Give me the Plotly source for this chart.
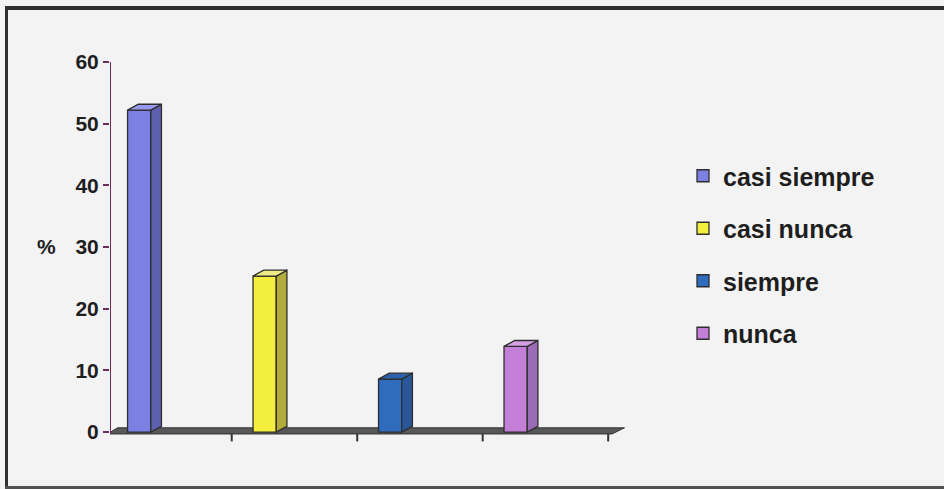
import plotly.graph_objects as go

# Survey answers (percent of respondents)
categories = ["casi siempre", "casi nunca", "siempre", "nunca"]
percentages = [52.2, 25.3, 8.6, 13.9]
y_ticks = [0, 10, 20, 30, 40, 50, 60]

front_colors = ["#7c80e2", "#f4ef3c", "#2f6cbe", "#c47fd9"]
side_colors = ["#5d60ad", "#b3ab3a", "#28579a", "#9a6cb6"]
top_colors = ["#9699ec", "#efeb84", "#2c60aa", "#d7a0e6"]

# geometry of the pseudo-3D columns, in axis units
OFFSET = 0.14    # gap between slot start and column front face
WIDTH = 0.185    # width of the front face
DX = 0.085       # horizontal depth of the column
DY = 0.95        # vertical depth of the column
X_MAX = 4.12
Y_MIN, Y_MAX = -1.6, 60

W, H = 944, 489
ML, MR, MT, MB = 110, 317, 62, 47
OUTLINE = "#2e2e2e"
FONT = "Liberation Sans, Arial, sans-serif"


def px_x(p):
    return (p - ML) / (W - ML - MR)


def px_y(p):
    return (H - MB - p) / (H - MT - MB)


fig = go.Figure()

for i, (name, v) in enumerate(zip(categories, percentages)):
    xl = i + OFFSET
    xr = xl + WIDTH
    fig.add_trace(go.Bar(
        x=[xl + WIDTH / 2], y=[v], width=WIDTH, name=name,
        legendgroup=name,
        marker=dict(color=front_colors[i], line=dict(color=OUTLINE, width=1.3)),
        hoverinfo="name+y",
    ))
    # right-hand side face
    fig.add_trace(go.Scatter(
        x=[xr, xr + DX, xr + DX, xr, xr],
        y=[0, DY, v + DY, v, 0],
        mode="lines", fill="toself", fillcolor=side_colors[i],
        line=dict(color=OUTLINE, width=1.3),
        legendgroup=name, showlegend=False, hoverinfo="skip",
    ))
    # top face
    fig.add_trace(go.Scatter(
        x=[xl, xr, xr + DX, xl + DX, xl],
        y=[v, v, v + DY, v + DY, v],
        mode="lines", fill="toself", fillcolor=top_colors[i],
        line=dict(color=OUTLINE, width=1.3),
        legendgroup=name, showlegend=False, hoverinfo="skip",
    ))

n = len(categories)
shapes = []
# floor plate under the columns
floor_path = (f"M -0.02,-0.3 L {n},-0.3 L {n + 0.1},0.7 L 0.06,0.7 Z")
shapes.append(dict(type="path", path=floor_path, xref="x", yref="y",
                   fillcolor="#585858", line=dict(color="#333333", width=1),
                   layer="below"))
# category separators under the floor
for k in range(1, n + 1):
    shapes.append(dict(type="line", xref="x", yref="y", x0=k - 0.03, x1=k - 0.03,
                       y0=-0.3, y1=-1.5, line=dict(color="#333333", width=2)))
# value axis line
shapes.append(dict(type="line", xref="x", yref="y", x0=0, x1=0, y0=-0.3, y1=Y_MAX,
                   line=dict(color="#6e2c5c", width=2)))
# outer frame (left, top, bottom)
shapes.append(dict(type="line", xref="paper", yref="paper",
                   x0=px_x(5), x1=px_x(944), y0=px_y(8), y1=px_y(8),
                   line=dict(color="#303030", width=4)))
shapes.append(dict(type="line", xref="paper", yref="paper",
                   x0=px_x(6.5), x1=px_x(6.5), y0=px_y(7), y1=px_y(488),
                   line=dict(color="#303030", width=3)))
shapes.append(dict(type="line", xref="paper", yref="paper",
                   x0=px_x(5), x1=px_x(944), y0=px_y(487.5), y1=px_y(487.5),
                   line=dict(color="#505050", width=3)))

fig.update_layout(
    width=W, height=H,
    margin=dict(l=ML, r=MR, t=MT, b=MB, pad=0),
    paper_bgcolor="#f3f3f4",
    plot_bgcolor="#f3f3f4",
    showlegend=True,
    barmode="overlay",
    shapes=shapes,
    xaxis=dict(range=[0, X_MAX], visible=False, fixedrange=True),
    yaxis=dict(
        range=[Y_MIN, Y_MAX], tickvals=y_ticks, ticktext=[str(t) for t in y_ticks],
        showgrid=False, zeroline=False, showline=False,
        ticks="outside", ticklen=6, tickwidth=1.5, tickcolor="#6e2c5c",
        tickfont=dict(family=FONT, size=21, color="#1e1e1e", weight="bold"),
    ),
    legend=dict(
        x=px_x(683), y=px_y(153), xanchor="left", yanchor="top",
        bgcolor="rgba(0,0,0,0)", traceorder="grouped", tracegroupgap=17,
        font=dict(family=FONT, size=25, color="#1e1e1e", weight="bold"),
    ),
    annotations=[dict(
        text="<b>%</b>", xref="paper", yref="paper", x=px_x(46), y=px_y(247),
        xanchor="center", yanchor="middle", showarrow=False,
        font=dict(family=FONT, size=21, color="#1e1e1e"),
    )],
)

fig.write_html("out.html")
